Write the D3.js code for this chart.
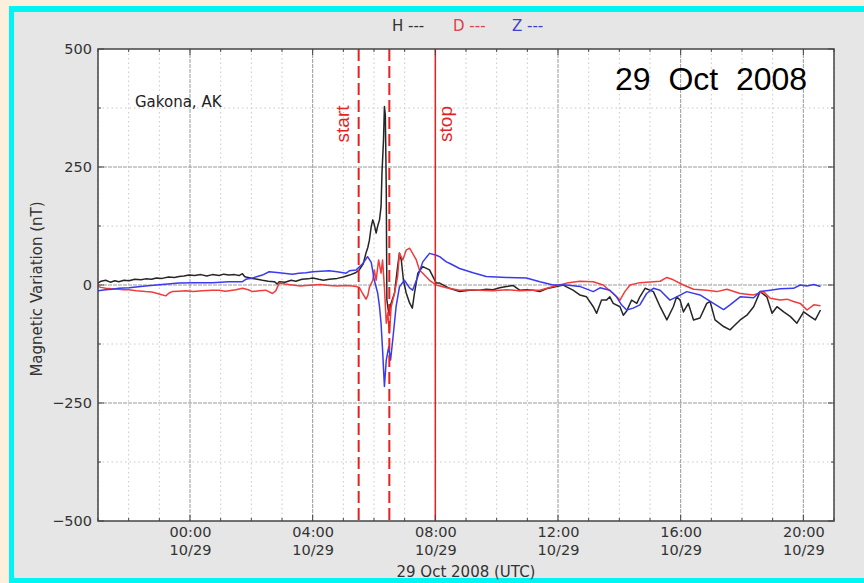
<!DOCTYPE html>
<html>
<head>
<meta charset="utf-8">
<script src="https://cdn.jsdelivr.net/npm/d3@7"></script>
<style>
  html, body { margin: 0; padding: 0; background: #e6e6e6; overflow: hidden; }
  svg { display: block; }
  text { font-family: "DejaVu Sans", sans-serif; }
</style>
</head>
<body>
<svg id="chart" width="864" height="583"></svg>
<script>
// Magnetometer record, Gakona AK, 29 Oct 2008.
// Times are hours from 00:00 UTC on 29 Oct 2008; values in nT.
const hTimes = [-3.00,-2.90,-2.75,-2.60,-2.45,-2.32,-2.15,-1.99,-1.80,-1.60,-1.45,-1.25,-1.10,-0.91,-0.70,-0.50,-0.36,-0.20,-0.03,0.15,0.35,0.55,0.73,0.95,1.10,1.27,1.45,1.60,1.71,1.78,1.82,2.04,2.20,2.36,2.55,2.75,2.85,2.91,3.10,3.30,3.45,3.65,3.85,4.00,4.20,4.35,4.54,4.80,5.00,5.20,5.40,5.52,5.65,5.74,5.80,5.85,5.91,5.96,6.01,6.07,6.12,6.18,6.23,6.26,6.31,6.34,6.37,6.40,6.42,6.48,6.56,6.67,6.77,6.83,6.89,6.96,7.05,7.16,7.25,7.32,7.43,7.59,7.81,8.03,8.14,8.46,8.79,9.12,9.44,9.66,9.88,10.10,10.32,10.53,10.75,10.97,11.19,11.41,11.62,11.84,12.17,12.28,12.49,12.71,12.93,13.15,13.26,13.42,13.58,13.69,13.80,14.02,14.13,14.24,14.40,14.57,14.67,14.84,15.11,15.33,15.55,15.76,15.87,15.98,16.09,16.25,16.42,16.63,16.85,16.96,17.12,17.40,17.61,17.72,17.94,18.16,18.38,18.59,18.81,18.98,19.14,19.36,19.58,19.79,20.01,20.23,20.39,20.56];
const hValues = [4,8,10,6,9,7,10,9,12,11,13,12,15,14,17,16,18,19,21,20,22,19,22,20,23,21,22,20,24,18,17,14,12,10,8,7,2,7,6,10,8,12,13,15,12,10,12,14,17,21,26,32,45,68,80,95,124,138,128,110,125,138,166,237,307,378,360,200,-32,-59,-38,-17,39,68,53,10,-17,-38,-49,-17,25,39,32,4,4,-7,-14,-11,-11,-9,-10,-6,-3,-1,-11,-10,-11,-14,-8,-5,0,-4,-11,-21,-25,-46,-60,-32,-32,-25,-39,-46,-64,-55,-32,-39,-25,-7,-14,-46,-74,-46,-25,-32,-57,-39,-74,-70,-39,-35,-74,-88,-95,-88,-74,-64,-46,-14,-25,-60,-46,-57,-67,-81,-57,-67,-74,-53];

const dTimes = [-3.00,-2.90,-2.75,-2.55,-2.32,-2.15,-1.99,-1.75,-1.45,-1.25,-1.12,-0.95,-0.79,-0.68,-0.58,-0.36,-0.14,0.10,0.40,0.73,0.95,1.15,1.27,1.50,1.71,1.90,2.04,2.25,2.47,2.69,2.80,2.91,3.10,3.34,3.60,3.78,4.00,4.25,4.54,4.80,5.09,5.30,5.42,5.52,5.63,5.74,5.80,5.85,5.96,6.01,6.07,6.15,6.23,6.28,6.34,6.40,6.45,6.50,6.56,6.67,6.77,6.83,6.94,7.05,7.16,7.26,7.38,7.48,7.59,7.81,8.03,8.36,8.79,9.12,9.44,9.88,10.10,10.32,10.75,11.19,11.41,11.84,12.28,12.71,13.15,13.47,13.80,14.02,14.18,14.35,14.67,15.11,15.33,15.55,15.76,16.09,16.42,16.85,17.18,17.51,17.94,18.38,18.70,18.92,19.25,19.47,19.68,19.90,20.12,20.34,20.56];
const dValues = [-3,-5,-7,-8,-9,-10,-10,-12,-14,-15,-17,-20,-23,-17,-14,-13,-12,-14,-12,-11,-11,-13,-12,-10,-7,-10,-14,-12,-11,-18,-12,4,2,0,-2,-1,0,1,-1,-2,-1,-2,-3,-5,-18,-30,-22,-5,10,32,10,53,25,53,-5,-81,-59,-102,-46,-17,18,67,53,74,78,67,53,32,25,10,0,-6,-11,-10,-11,-12,-11,-10,-12,-11,-11,-3,4,8,7,0,-18,-32,-14,0,5,7,8,16,11,0,-9,-11,-14,-9,-18,-21,-14,-28,-32,-30,-35,-39,-53,-42,-44];

const zTimes = [-3.00,-2.75,-2.54,-2.32,-1.99,-1.45,-0.91,-0.36,0.19,0.73,1.27,1.71,1.82,2.04,2.36,2.58,2.75,2.91,3.34,3.55,3.78,4.00,4.54,4.80,5.09,5.20,5.42,5.63,5.79,5.91,6.01,6.12,6.18,6.23,6.28,6.34,6.40,6.48,6.54,6.61,6.72,6.83,6.99,7.16,7.26,7.43,7.59,7.81,8.03,8.14,8.36,8.46,8.79,9.23,9.66,10.32,10.97,11.41,11.84,12.28,12.71,13.15,13.37,13.69,13.91,14.07,14.24,14.45,14.67,14.89,15.11,15.33,15.65,15.87,16.20,16.63,17.07,17.40,17.61,17.94,18.38,18.59,18.92,19.25,19.68,19.90,20.12,20.34,20.56];
const zValues = [-12,-10,-9,-7,-6,-2,1,4,5,5,7,7,12,15,21,28,27,26,23,25,26,28,30,28,25,30,32,45,60,48,10,-17,-46,-81,-138,-215,-159,-131,-159,-117,-46,-4,10,-6,-11,18,49,67,63,60,49,46,35,26,18,16,15,7,0,0,-3,-14,-6,-11,-25,-42,-53,-49,-42,-18,-7,-11,-32,-25,-14,-21,-39,-52,-42,-25,-27,-14,-11,-8,-7,0,-2,1,-3];

// Event markers (hours) and axis settings
const markerStart = 5.5, markerMid = 6.5, markerStop = 8.0;
const yTicks = [-500, -250, 0, 250, 500];
const yMinor = [-375, -125, 125, 375];
const tickDate = "10/29";

const base = Date.UTC(2008, 9, 29);
const toDate = h => new Date(base + h * 3600e3);

const svg = d3.select("#chart");
const W = 864, H = 583;

// Figure face with a cream margin and cyan band on the left, top and bottom
svg.append("rect").attr("x", 0).attr("y", 0).attr("width", W).attr("height", H).attr("fill", "#e6e6e6");
svg.append("rect").attr("x", 0).attr("y", 0).attr("width", 9).attr("height", H).attr("fill", "#fcefdc");
svg.append("rect").attr("x", 0).attr("y", 0).attr("width", W).attr("height", 6).attr("fill", "#fcefdc");
svg.append("rect").attr("x", 9).attr("y", 6).attr("width", 5).attr("height", H - 6).attr("fill", "#00f4f4");
svg.append("rect").attr("x", 9).attr("y", 6).attr("width", W - 9).attr("height", 6).attr("fill", "#00f4f4");
svg.append("rect").attr("x", 9).attr("y", 578).attr("width", W - 9).attr("height", 5).attr("fill", "#00f4f4");

const m = { left: 98, right: 834, top: 49, bottom: 521 };

const x = d3.scaleUtc().domain([toDate(-3), toDate(21)]).range([m.left, m.right]);
const y = d3.scaleLinear().domain([-500, 500]).range([m.bottom, m.top]);

svg.append("rect").attr("x", m.left).attr("y", m.top)
  .attr("width", m.right - m.left).attr("height", m.bottom - m.top).attr("fill", "#ffffff");

const grid = svg.append("g");
const hours = x.ticks(d3.utcHour.every(1));
const majors = x.ticks(d3.utcHour.every(4));
const isMajor = d => d.getUTCHours() % 4 === 0;

// hourly dotted verticals
grid.selectAll("line.vmin").data(hours.filter(d => !isMajor(d))).join("line")
  .attr("x1", d => x(d)).attr("x2", d => x(d)).attr("y1", m.top).attr("y2", m.bottom)
  .attr("stroke", "#c8c8c8").attr("stroke-width", 1).attr("stroke-dasharray", "1.5,3");
grid.selectAll("line.hmin").data(yMinor).join("line")
  .attr("x1", m.left).attr("x2", m.right).attr("y1", d => y(d)).attr("y2", d => y(d))
  .attr("stroke", "#c8c8c8").attr("stroke-width", 1).attr("stroke-dasharray", "1.5,3");
// four-hourly and major value grid
svg.append("g").selectAll("line").data(majors).join("line")
  .attr("x1", d => x(d)).attr("x2", d => x(d)).attr("y1", m.top).attr("y2", m.bottom)
  .attr("stroke", "#9a9a9a").attr("stroke-width", 1).attr("stroke-dasharray", "4,1");
svg.append("g").selectAll("line").data(yTicks.slice(1, -1)).join("line")
  .attr("x1", m.left).attr("x2", m.right).attr("y1", d => y(d)).attr("y2", d => y(d))
  .attr("stroke", "#9a9a9a").attr("stroke-width", 1).attr("stroke-dasharray", "4,1");

// Traces
const line = d3.line().x(d => x(toDate(d[0]))).y(d => y(d[1]));
const series = [
  { t: hTimes, v: hValues, c: "#262626" },
  { t: dTimes, v: dValues, c: "#f03c3c" },
  { t: zTimes, v: zValues, c: "#3a3af0" }
];
svg.append("g").selectAll("path").data(series).join("path")
  .attr("d", s => line(s.t.map((t, i) => [t, s.v[i]])))
  .attr("fill", "none").attr("stroke", s => s.c).attr("stroke-width", 1.5)
  .attr("stroke-linejoin", "round");

// Event markers
const red = "#e42222";
const mk = svg.append("g");
[markerStart, markerMid].forEach(h => {
  mk.append("line").attr("x1", x(toDate(h))).attr("x2", x(toDate(h)))
    .attr("y1", m.top).attr("y2", m.bottom).attr("stroke", red).attr("stroke-width", 2)
    .attr("stroke-dasharray", "12,5");
});
mk.append("line").attr("x1", x(toDate(markerStop))).attr("x2", x(toDate(markerStop)))
  .attr("y1", m.top).attr("y2", m.bottom).attr("stroke", red).attr("stroke-width", 1.5);
mk.append("text").attr("transform", `translate(${x(toDate(markerStart)) - 10},124) rotate(-90)`)
  .attr("text-anchor", "middle").attr("fill", red).attr("font-size", 19)
  .style("font-family", "'Liberation Sans', Arial, sans-serif").text("start");
mk.append("text").attr("transform", `translate(${x(toDate(markerStop)) + 17},124) rotate(-90)`)
  .attr("text-anchor", "middle").attr("fill", red).attr("font-size", 19)
  .style("font-family", "'Liberation Sans', Arial, sans-serif").text("stop");

// Plot frame
svg.append("rect").attr("x", m.left).attr("y", m.top)
  .attr("width", m.right - m.left).attr("height", m.bottom - m.top)
  .attr("fill", "none").attr("stroke", "#444").attr("stroke-width", 1.5);

// Tick marks (inward)
const tk = svg.append("g").attr("stroke", "#444").attr("stroke-width", 1);
hours.forEach(d => {
  const L = isMajor(d) ? 6 : 3;
  tk.append("line").attr("x1", x(d)).attr("x2", x(d)).attr("y1", m.top).attr("y2", m.top + L);
  tk.append("line").attr("x1", x(d)).attr("x2", x(d)).attr("y1", m.bottom).attr("y2", m.bottom - L);
});
yTicks.concat(yMinor).forEach(v => {
  const L = yTicks.includes(v) ? 6 : 3;
  tk.append("line").attr("x1", m.left).attr("x2", m.left + L).attr("y1", y(v)).attr("y2", y(v));
  tk.append("line").attr("x1", m.right).attr("x2", m.right - L).attr("y1", y(v)).attr("y2", y(v));
});

// Axis labels
const yAxis = d3.axisLeft(y).tickValues(yTicks).tickSize(0).tickPadding(6)
  .tickFormat(d => d < 0 ? "\u2212" + Math.abs(d) : String(d));
const ya = svg.append("g").attr("transform", `translate(${m.left},0)`).call(yAxis);
ya.select(".domain").remove();
ya.selectAll("text").attr("font-size", 14.5).attr("fill", "#333")
  .style("font-family", "'DejaVu Sans', sans-serif");

const fmt = d3.utcFormat("%H:%M");
const xAxis = d3.axisBottom(x).tickValues(majors).tickSize(0).tickPadding(6).tickFormat(fmt);
const xa = svg.append("g").attr("transform", `translate(0,${m.bottom})`).call(xAxis);
xa.select(".domain").remove();
xa.selectAll("text").attr("font-size", 14.5).attr("fill", "#333")
  .style("font-family", "'DejaVu Sans', sans-serif")
  .each(function() {
    d3.select(this).append("tspan").attr("x", 0).attr("dy", "1.25em").text(tickDate);
  });

svg.append("text").attr("x", (m.left + m.right) / 2).attr("y", 577)
  .attr("text-anchor", "middle").attr("font-size", 15).attr("fill", "#333")
  .text("29 Oct 2008 (UTC)");

svg.append("text").attr("transform", `translate(42,289) rotate(-90)`)
  .attr("text-anchor", "middle").attr("font-size", 15).attr("fill", "#333")
  .text("Magnetic Variation (nT)");

// Legend
const legend = [
  { label: "H ---", c: "#333333", x: 392 },
  { label: "D ---", c: "#e0404a", x: 453 },
  { label: "Z ---", c: "#4040cc", x: 512 }
];
svg.append("g").selectAll("text").data(legend).join("text")
  .attr("x", d => d.x).attr("y", 31).attr("font-size", 15).attr("fill", d => d.c)
  .text(d => d.label);

// Annotations
svg.append("text").attr("x", 135).attr("y", 107).attr("font-size", 15).attr("fill", "#222")
  .text("Gakona, AK");
svg.append("text").attr("x", 615).attr("y", 89.5).attr("font-size", 32).attr("fill", "#000")
  .style("font-family", "'Liberation Sans', Arial, sans-serif").style("white-space", "pre")
  .text("29  Oct  2008");
</script>
</body>
</html>
